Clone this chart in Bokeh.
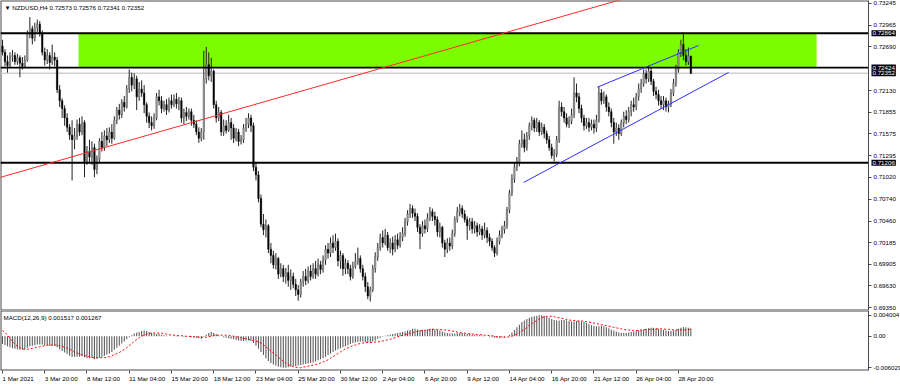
from bokeh.plotting import figure
from bokeh.layouts import column
from bokeh.models import (Range1d, FixedTicker, PrintfTickFormatter, Label, ColumnDataSource,
                          LinearAxis)
from bokeh.embed import file_html
from bokeh.resources import INLINE

# ---------------- data (prices in pips = 0.0001) ----------------
opens_pips = [
    7270, 7262, 7250, 7245, 7256, 7258, 7250, 7255, 7248, 7244,
    7252, 7285, 7292, 7280, 7294, 7298, 7286, 7262, 7252, 7258,
    7249, 7256, 7252, 7214, 7200, 7190, 7178, 7166, 7156, 7150,
    7155, 7170, 7160, 7172, 7122, 7135, 7128, 7140, 7112, 7125,
    7148, 7140, 7155, 7150, 7160, 7152, 7175, 7188, 7182, 7198,
    7192, 7215, 7230, 7220, 7228, 7205, 7215, 7210, 7195, 7180,
    7172, 7168, 7178, 7205, 7200, 7190, 7195, 7188, 7200, 7195,
    7202, 7196, 7200, 7178, 7185, 7180, 7186, 7175, 7170, 7160,
    7152, 7160, 7228, 7246, 7232, 7238, 7195, 7178, 7185, 7160,
    7168, 7162, 7172, 7165, 7152, 7160, 7148, 7150, 7165, 7170,
    7178, 7168, 7115, 7105, 7075, 7042, 7035, 7040, 7010, 7002,
    6990, 6998, 6978, 6985, 6975, 6980, 6970, 6975, 6965, 6958,
    6952, 6968, 6975, 6970, 6982, 6975, 6985, 6978, 6990, 6984,
    6996, 7010, 7005, 7018, 7012, 7020, 6995, 7002, 6985, 6992,
    6985, 6975, 6988, 6994, 6998, 6985, 6975, 6962, 6950, 6958,
    6985, 7000, 7012, 7025, 7018, 7028, 7012, 7018, 7010, 7022,
    7015, 7025, 7030, 7045, 7055, 7062, 7056, 7052, 7038, 7030,
    7040, 7036, 7050, 7058, 7052, 7048, 7032, 7038, 7018, 7010,
    7018, 7014, 7030, 7048, 7058, 7062, 7055, 7048, 7040, 7045,
    7036, 7040, 7032, 7036, 7028, 7034, 7025, 7020, 7012, 7005,
    7020, 7028, 7035, 7040, 7060, 7082, 7100, 7115, 7120, 7145,
    7150, 7140, 7155, 7168, 7175, 7165, 7172, 7160, 7166, 7158,
    7150, 7140, 7130, 7132, 7150, 7192, 7186, 7178, 7170, 7174,
    7182, 7210, 7205, 7190, 7178, 7168, 7172, 7166, 7170, 7165,
    7175, 7210, 7200, 7205, 7192, 7186, 7172, 7160, 7165, 7158,
    7172, 7180, 7176, 7186, 7195, 7192, 7205, 7215, 7222, 7235,
    7228, 7238, 7225, 7212, 7208, 7200, 7195, 7200, 7192, 7196,
    7210, 7222, 7240, 7262, 7272, 7258, 7250, 7257.3,
]
highs_pips = [
    7278, 7266, 7258, 7262, 7265, 7262, 7260, 7258, 7256, 7258,
    7290, 7307, 7296, 7300, 7304, 7302, 7290, 7268, 7266, 7262,
    7272, 7262, 7256, 7220, 7203, 7194, 7184, 7170, 7175, 7165,
    7176, 7178, 7180, 7175, 7142, 7150, 7148, 7145, 7130, 7152,
    7160, 7162, 7165, 7166, 7170, 7180, 7192, 7196, 7202, 7206,
    7220, 7240, 7236, 7235, 7232, 7224, 7226, 7220, 7198, 7185,
    7180, 7184, 7210, 7214, 7206, 7200, 7202, 7204, 7208, 7208,
    7210, 7205, 7204, 7190, 7192, 7190, 7190, 7182, 7175, 7166,
    7165, 7264, 7269, 7262, 7255, 7240, 7200, 7192, 7188, 7176,
    7175, 7182, 7178, 7170, 7165, 7164, 7156, 7170, 7178, 7184,
    7182, 7172, 7120, 7110, 7080, 7055, 7048, 7042, 7018, 7008,
    7005, 7000, 6992, 6990, 6986, 6990, 6984, 6980, 6972, 6964,
    6972, 6982, 6985, 6988, 6990, 6992, 6995, 6998, 6995, 7002,
    7015, 7018, 7025, 7028, 7030, 7024, 7008, 7005, 6998, 6996,
    6990, 6994, 7005, 7012, 7002, 6990, 6980, 6968, 6962, 6990,
    7006, 7018, 7030, 7034, 7036, 7032, 7024, 7026, 7028, 7030,
    7032, 7038, 7050, 7060, 7068, 7066, 7062, 7056, 7042, 7046,
    7048, 7056, 7064, 7062, 7058, 7052, 7044, 7040, 7022, 7024,
    7025, 7035, 7052, 7064, 7068, 7066, 7060, 7052, 7050, 7050,
    7046, 7044, 7042, 7040, 7044, 7038, 7030, 7024, 7015, 7025,
    7034, 7040, 7046, 7064, 7086, 7106, 7120, 7128, 7150, 7162,
    7158, 7160, 7172, 7180, 7178, 7178, 7175, 7172, 7170, 7162,
    7155, 7145, 7138, 7155, 7200, 7198, 7192, 7184, 7180, 7190,
    7230, 7222, 7210, 7195, 7182, 7178, 7178, 7176, 7176, 7182,
    7218, 7215, 7212, 7208, 7198, 7190, 7178, 7172, 7170, 7176,
    7186, 7188, 7192, 7200, 7204, 7210, 7222, 7228, 7240, 7240,
    7245, 7242, 7228, 7218, 7214, 7206, 7206, 7204, 7200, 7215,
    7228, 7246, 7266, 7278, 7288, 7266, 7268, 7257.6,
]
lows_pips = [
    7258, 7244, 7236, 7242, 7250, 7246, 7246, 7230, 7240, 7242,
    7250, 7280, 7272, 7276, 7288, 7282, 7258, 7245, 7247, 7240,
    7246, 7244, 7210, 7192, 7178, 7168, 7160, 7150, 7098, 7138,
    7150, 7155, 7156, 7102, 7118, 7120, 7118, 7102, 7106, 7120,
    7135, 7136, 7142, 7146, 7145, 7150, 7170, 7176, 7178, 7186,
    7190, 7210, 7212, 7215, 7188, 7200, 7205, 7184, 7172, 7165,
    7162, 7164, 7175, 7194, 7184, 7186, 7182, 7185, 7190, 7192,
    7190, 7188, 7172, 7170, 7174, 7176, 7168, 7165, 7156, 7146,
    7148, 7150, 7222, 7226, 7224, 7190, 7172, 7174, 7155, 7155,
    7158, 7160, 7150, 7146, 7148, 7142, 7144, 7146, 7160, 7165,
    7160, 7110, 7098, 7070, 7038, 7028, 7025, 7005, 6992, 6985,
    6984, 6972, 6974, 6968, 6966, 6962, 6958, 6960, 6950, 6944,
    6948, 6962, 6964, 6966, 6970, 6972, 6972, 6975, 6978, 6980,
    6990, 6998, 7000, 7005, 7008, 6988, 6985, 6976, 6978, 6978,
    6970, 6972, 6985, 6990, 6980, 6970, 6955, 6946, 6943, 6955,
    6980, 6995, 7008, 7012, 7015, 7008, 7005, 7002, 7006, 7010,
    7012, 7020, 7026, 7040, 7050, 7050, 7046, 7032, 7010, 7026,
    7030, 7032, 7046, 7046, 7040, 7026, 7025, 7012, 7000, 7005,
    7008, 7010, 7026, 7044, 7052, 7050, 7044, 7022, 7034, 7030,
    7030, 7026, 7028, 7022, 7024, 7018, 7014, 7008, 7000, 7002,
    7016, 7024, 7030, 7036, 7056, 7078, 7095, 7110, 7116, 7140,
    7134, 7136, 7150, 7162, 7160, 7160, 7155, 7156, 7152, 7145,
    7136, 7126, 7122, 7128, 7146, 7180, 7172, 7166, 7165, 7170,
    7178, 7198, 7184, 7172, 7162, 7164, 7160, 7162, 7158, 7160,
    7172, 7195, 7196, 7186, 7180, 7166, 7145, 7155, 7150, 7155,
    7166, 7170, 7172, 7180, 7186, 7188, 7200, 7210, 7218, 7222,
    7224, 7220, 7206, 7202, 7194, 7190, 7188, 7186, 7185, 7192,
    7206, 7218, 7236, 7256, 7252, 7245, 7246, 7234.1,
]
closes_pips = [
    7262, 7250, 7245, 7256, 7258, 7250, 7255, 7248, 7244, 7252,
    7285, 7292, 7280, 7294, 7298, 7286, 7262, 7252, 7258, 7249,
    7256, 7252, 7214, 7200, 7190, 7178, 7166, 7156, 7150, 7155,
    7170, 7160, 7172, 7122, 7135, 7128, 7140, 7112, 7125, 7148,
    7140, 7155, 7150, 7160, 7152, 7175, 7188, 7182, 7198, 7192,
    7215, 7230, 7220, 7228, 7205, 7215, 7210, 7195, 7180, 7172,
    7168, 7178, 7205, 7200, 7190, 7195, 7188, 7200, 7195, 7202,
    7196, 7200, 7178, 7185, 7180, 7186, 7175, 7170, 7160, 7152,
    7160, 7228, 7246, 7232, 7238, 7195, 7178, 7185, 7160, 7168,
    7162, 7172, 7165, 7152, 7160, 7148, 7150, 7165, 7170, 7178,
    7168, 7115, 7105, 7075, 7042, 7035, 7040, 7010, 7002, 6990,
    6998, 6978, 6985, 6975, 6980, 6970, 6975, 6965, 6958, 6952,
    6968, 6975, 6970, 6982, 6975, 6985, 6978, 6990, 6984, 6996,
    7010, 7005, 7018, 7012, 7020, 6995, 7002, 6985, 6992, 6985,
    6975, 6988, 6994, 6998, 6985, 6975, 6962, 6950, 6958, 6985,
    7000, 7012, 7025, 7018, 7028, 7012, 7018, 7010, 7022, 7015,
    7025, 7030, 7045, 7055, 7062, 7056, 7052, 7038, 7030, 7040,
    7036, 7050, 7058, 7052, 7048, 7032, 7038, 7018, 7010, 7018,
    7014, 7030, 7048, 7058, 7062, 7055, 7048, 7040, 7045, 7036,
    7040, 7032, 7036, 7028, 7034, 7025, 7020, 7012, 7005, 7020,
    7028, 7035, 7040, 7060, 7082, 7100, 7115, 7120, 7145, 7150,
    7140, 7155, 7168, 7175, 7165, 7172, 7160, 7166, 7158, 7150,
    7140, 7130, 7132, 7150, 7192, 7186, 7178, 7170, 7174, 7182,
    7210, 7205, 7190, 7178, 7168, 7172, 7166, 7170, 7165, 7175,
    7210, 7200, 7205, 7192, 7186, 7172, 7160, 7165, 7158, 7172,
    7180, 7176, 7186, 7195, 7192, 7205, 7215, 7222, 7235, 7228,
    7238, 7225, 7212, 7208, 7200, 7195, 7200, 7192, 7196, 7210,
    7222, 7240, 7262, 7272, 7258, 7250, 7257, 7235.2,
]
# MACD(12,26,9) main and signal, in units of 0.0001
macd_main = [
    -15, -17, -19, -21, -23, -24, -25, -26, -26,
    -25, -22, -19, -18, -17, -16, -16,
    -16, -17, -17, -18, -18, -18,
    -21, -25, -28, -31, -34, -37, -39, -39,
    -39, -39, -38, -40, -42, -42, -42, -44, -43,
    -41, -39, -37, -35, -33, -30, -26,
    -22, -18, -14, -10, -6, -2,
    2, 5, 7, 8, 10, 11, 10,
    8, 6, 5, 4, 4, 3, 2, 1, 0, 0, 1, 1,
    1, 0, -1, -1, -1, -2, -2, -3, -4, -5,
    -1, 3, 6, 8, 6, 4,
    2, 0, -2, -3, -4, -5, -6, -7, -8, -9, -9, -8, -8, -9,
    -13, -18, -24, -30, -36, -42, -47,
    -51, -54, -56, -58, -59, -60, -60, -59,
    -58, -57, -57, -56, -55, -54, -53, -52, -51, -50,
    -48, -46, -44, -42, -39, -36, -33, -30, -27, -25, -23, -21, -19,
    -17, -15, -13, -12, -11, -10, -10, -11, -12, -12,
    -10, -8, -5, -3,
    -1, 1, 2, 3, 4, 5, 6, 7, 8, 9, 11, 12,
    14, 14, 13, 12, 12, 12, 13, 14, 14, 13, 12, 11, 9,
    7, 6, 5, 5,
    5, 6, 6, 6, 5, 4, 4, 3, 3, 2, 2, 2, 1,
    0, -1, -2, -3, -3, -3, -2, -2, 0,
    3, 7, 12, 17, 22, 27,
    30, 33, 35, 37, 38, 39, 40, 40, 39,
    37, 35, 33, 31, 30, 30, 31, 31, 30, 29, 28, 28, 29, 29,
    28, 27, 25, 23, 21, 20, 19, 19, 20, 19, 17, 15, 13,
    11, 9, 7, 6, 6,
    6, 7, 8, 9, 10, 11, 12,
    13, 14, 15, 16, 16, 15, 14, 13, 12, 11, 10,
    10, 11, 12, 14, 16, 17, 17, 16, 15.17,
]
macd_signal = [
    11, 7, 2, -4, -10, -15, -19, -22, -24,
    -25, -25, -24, -23, -22, -21, -20,
    -19, -18, -17, -17, -17, -17,
    -17, -18, -19, -21, -23, -25, -27, -30,
    -32, -34, -36, -37, -38, -39, -40, -41, -41,
    -41, -41, -41, -40, -39, -37, -35,
    -33, -31, -28, -25, -22, -18,
    -14, -10, -6, -3, 0, 2, 4,
    5, 6, 6, 6, 6, 6, 5, 4, 3, 2, 2, 1,
    1, 1, 0, 0, 0, -1, -1, -1, -2, -2,
    -2, -2, -1, 0, 1, 2,
    2, 2, 2, 2, 1, 1, 0, -1, -2, -3, -4, -5, -6, -7,
    -8, -9, -11, -13, -16, -20, -24,
    -28, -32, -36, -40, -44, -48, -51, -54,
    -56, -58, -59, -60, -60, -59, -58, -57, -56, -55,
    -54, -53, -51, -49, -47, -45, -42, -39, -36, -33, -30, -27, -24,
    -22, -20, -18, -17, -15, -14, -13, -12, -12, -12,
    -12, -11, -11, -10,
    -9, -8, -7, -6, -4, -3, -1, 0, 2, 3, 4, 6,
    7, 8, 9, 10, 11, 11, 12, 12, 13, 13, 13, 13, 12,
    12, 11, 11, 10,
    9, 8, 7, 6, 6, 5, 5, 4, 4, 3, 3, 3, 2,
    2, 1, 1, 0, -1, -1, -2, -2, -2,
    -1, 0, 2, 4, 7, 10,
    13, 17, 21, 24, 27, 30, 33, 35, 37,
    38, 38, 38, 37, 36, 35, 34, 33, 32, 31, 30, 30, 29, 29,
    29, 28, 28, 27, 26, 25, 24, 23, 22, 21, 20, 19, 18,
    17, 16, 15, 14, 13,
    12, 12, 11, 11, 11, 11, 12,
    12, 13, 13, 13, 13, 14, 14, 14, 14, 13, 13,
    13, 12, 12, 12, 12, 12, 12, 12.5, 12.67,
]

title_text = "\u25bc NZDUSD,H4  0.72573 0.72576 0.72341 0.72352"
macd_title = "MACD(12,26,9) 0.001517 0.001267"
price_ticks = [0.73245, 0.72965, 0.72690, 0.72130, 0.71855, 0.71575, 0.71295,
               0.71020, 0.70740, 0.70460, 0.70185, 0.69905, 0.69630, 0.69350]
date_tick_bars = [0, 17, 34, 51, 68, 85, 102, 119, 136, 153, 170, 187, 204, 221, 238, 255, 272]
date_tick_labels = ["1 Mar 2021", "3 Mar 20:00", "8 Mar 12:00", "11 Mar 04:00", "15 Mar 20:00",
                    "18 Mar 12:00", "23 Mar 04:00", "25 Mar 20:00", "30 Mar 12:00", "2 Apr 04:00",
                    "6 Apr 20:00", "9 Apr 12:00", "14 Apr 04:00", "16 Apr 20:00", "21 Apr 12:00",
                    "26 Apr 04:00", "28 Apr 20:00"]
levels = [0.72864, 0.72424, 0.71206]
bid_price = 0.72352
zone_bars = [30.6, 327.6]
zone_prices = [0.72424, 0.72864]
red_trend_bars = [-1.0, 262.0]
red_trend_prices = [0.71018, 0.73414]
blue_upper_bars = [239.4, 280.1]
blue_upper_prices = [0.72174, 0.72707]
blue_lower_bars = [209.7, 292.2]
blue_lower_prices = [0.70954, 0.72362]
macd_ticks = [0.004004, 0.0, -0.006029]
macd_tick_labels = ["0.004004", "0.00", "-0.006029"]

# ---------------- layout constants ----------------
FONT = "Liberation Sans"
FS = "6.2px"
X0, X1 = -0.805, 361.37        # full-width frame (900 px)
SCALE_X = 348.49               # price scale position (bar units)
BORDER = "#4a4a4a"

n = min(len(opens_pips), len(highs_pips), len(lows_pips), len(closes_pips))
m = min(len(macd_main), len(macd_signal))
idx = list(range(n))
o = [v / 10000 for v in opens_pips[:n]]
h = [v / 10000 for v in highs_pips[:n]]
l = [v / 10000 for v in lows_pips[:n]]
c = [v / 10000 for v in closes_pips[:n]]
up = [ci >= oi for oi, ci in zip(o, c)]

label_extra = {}
try:
    if "padding" in Label.properties():
        label_extra["padding"] = 1
except Exception:
    pass


def style_scale(axis):
    axis.major_label_text_font = FONT
    axis.major_label_text_font_size = FS
    axis.major_label_text_color = "black"
    axis.axis_line_color = BORDER
    axis.major_tick_line_color = BORDER
    axis.major_tick_out = 3
    axis.major_tick_in = 0
    axis.minor_tick_line_color = None
    axis.major_label_standoff = 2


x_rng = Range1d(X0, X1)
PY0, PY1 = 0.69315, 0.73283

p = figure(frame_width=900, frame_height=310, x_range=x_rng, y_range=Range1d(PY0, PY1),
           output_backend="svg", toolbar_location=None, x_axis_location=None, y_axis_location=None,
           min_border_left=0, min_border_top=0, min_border_bottom=0, min_border_right=0,
           background_fill_color="white", border_fill_color="white")
p.grid.visible = False
p.outline_line_color = None

# frame borders (left, top, bottom) up to the price scale
p.segment(x0=[X0, X0, X0], y0=[PY0, PY1, PY0], x1=[X0, SCALE_X, SCALE_X], y1=[PY1, PY1, PY0],
          line_color=BORDER, line_width=2)

# zone rectangle
p.quad(left=[zone_bars[0]], right=[zone_bars[1]], bottom=[zone_prices[0]], top=[zone_prices[1]],
       fill_color="#7CFC00", line_color=None)

# bid line and horizontal levels
p.segment(x0=[X0], y0=[bid_price], x1=[SCALE_X], y1=[bid_price], line_color="#cfcfcf", line_width=1.5)

# candles
src = ColumnDataSource(dict(x=idx, o=o, h=h, l=l, c=c))
p.segment(x0="x", y0="l", x1="x", y1="h", source=src, line_color="#222222", line_width=1)
bx = [i for i in idx if up[i]]
p.vbar(x=bx, width=0.62, bottom=[o[i] for i in bx], top=[c[i] for i in bx],
       fill_color="#9a9a9a", line_color="#555555", line_width=0.4)
sx = [i for i in idx if not up[i]]
p.vbar(x=sx, width=0.62, bottom=[c[i] for i in sx], top=[o[i] for i in sx],
       fill_color="black", line_color="black", line_width=0.4)

p.segment(x0=[X0] * len(levels), y0=levels, x1=[SCALE_X] * len(levels), y1=levels,
          line_color="black", line_width=1.8)

# trend lines
p.line(red_trend_bars, red_trend_prices, line_color="#ff2a2a", line_width=1)
p.line(blue_upper_bars, blue_upper_prices, line_color="#2f2fff", line_width=1)
p.line(blue_lower_bars, blue_lower_prices, line_color="#2f2fff", line_width=1)

# price scale
ya = LinearAxis(fixed_location=SCALE_X, ticker=FixedTicker(ticks=price_ticks),
                formatter=PrintfTickFormatter(format="%.5f"))
style_scale(ya)
p.add_layout(ya, "right")

p.add_layout(Label(x=X0, y=PY1, x_offset=4, y_offset=-3, text=title_text,
                   text_font=FONT, text_font_size=FS, text_color="black",
                   text_baseline="top", text_align="left"))

for lv in levels + [bid_price]:
    p.add_layout(Label(x=SCALE_X, y=lv, x_offset=3, text=f"{lv:.5f}", text_font=FONT,
                       text_font_size=FS, text_color="white", text_baseline="middle",
                       text_align="left", background_fill_color="black", **label_extra))

# ---------------- MACD pane ----------------
MY0, MY1 = -0.00653, 0.004895
q = figure(frame_width=900, frame_height=60, x_range=x_rng, y_range=Range1d(MY0, MY1),
           output_backend="svg", toolbar_location=None, y_axis_location=None,
           min_border_left=0, min_border_top=0, min_border_bottom=16, min_border_right=0,
           background_fill_color="white", border_fill_color="white")
q.grid.visible = False
q.outline_line_color = None
q.segment(x0=[X0, X0, X0], y0=[MY0, MY1, MY0], x1=[X0, SCALE_X, SCALE_X], y1=[MY1, MY1, MY0],
          line_color=BORDER, line_width=2)

mi = list(range(m))
q.vbar(x=mi, width=0.42, bottom=0, top=[v / 10000 for v in macd_main[:m]],
       fill_color="#555555", line_color=None)
q.line(mi, [v / 10000 for v in macd_signal[:m]], line_color="red", line_width=1, line_dash="2 2")

qy = LinearAxis(fixed_location=SCALE_X, ticker=FixedTicker(ticks=macd_ticks))
qy.major_label_overrides = {t: s for t, s in zip(macd_ticks, macd_tick_labels)}
style_scale(qy)
q.add_layout(qy, "right")

qx = q.xaxis[0]
qx.ticker = FixedTicker(ticks=date_tick_bars)
qx.major_label_overrides = {b: s for b, s in zip(date_tick_bars, date_tick_labels)}
qx.major_label_text_font = FONT
qx.major_label_text_font_size = FS
qx.major_label_text_color = "black"
qx.major_label_orientation = -0.0001
qx.axis_line_color = None
qx.major_tick_line_color = BORDER
qx.major_tick_out = 3
qx.major_tick_in = 0
qx.minor_tick_line_color = None
qx.major_label_standoff = 5

q.add_layout(Label(x=X0, y=MY1, x_offset=3, y_offset=-3, text=macd_title,
                   text_font=FONT, text_font_size=FS, text_color="black",
                   text_baseline="top", text_align="left"))

layout = column(p, q, spacing=0)
open("out.html", "w").write(file_html(layout, INLINE))
